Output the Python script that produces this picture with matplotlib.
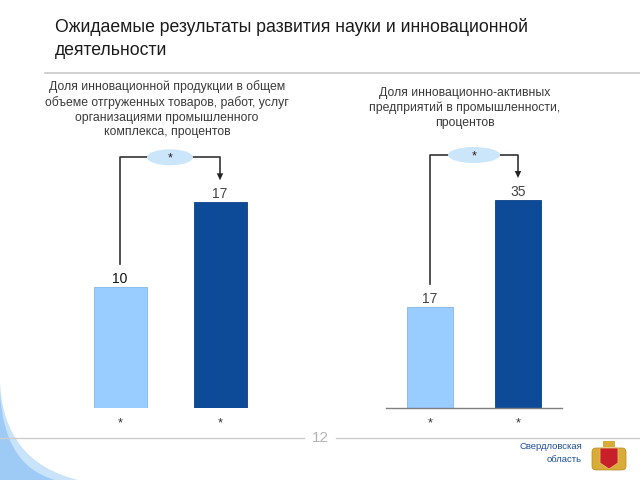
import matplotlib
matplotlib.use("Agg")
import matplotlib.pyplot as plt
from matplotlib.patches import Ellipse, PathPatch, FancyBboxPatch, Polygon
from matplotlib.path import Path
from matplotlib.transforms import IdentityTransform
from matplotlib.lines import Line2D

plt.rcParams['font.family'] = ['Liberation Sans', 'DejaVu Sans']

# ---- data ----
title = "Ожидаемые результаты развития науки и инновационной\nдеятельности"
left_subtitle = ("Доля инновационной продукции в общем\nобъеме отгруженных товаров, работ, услуг\n"
                 "организациями промышленного\nкомплекса, процентов")
right_subtitle = "Доля инновационно-активных\nпредприятий в промышленности,\nпроцентов"
left_categories = ["*", "*"]
left_values = [10, 17]
right_categories = ["*", "*"]
right_values = [17, 35]
change_labels = ["*", "*"]
page_number = "12"
region_label = "Свердловская\nобласть"

light_color = "#99CCFF"
dark_color = "#0D4A98"

W, H = 640, 480
fig = plt.figure(figsize=(6.4, 4.8), dpi=100)
fig.patch.set_facecolor("white")


def fax(x0, y0_top, w, h):
    """axes rectangle from pixel coords (y measured from top)"""
    return fig.add_axes([x0 / W, (H - y0_top - h) / H, w / W, h / H])


def pix(x, y_top):
    return (x, H - y_top)


ident = IdentityTransform()

# ---- decorative background swoosh ----
outer = Path([pix(0, 383), pix(4, 462), pix(78, 480), pix(0, 480), pix(0, 383)],
             [Path.MOVETO, Path.CURVE3, Path.CURVE3, Path.LINETO, Path.CLOSEPOLY])
fig.patches.append(PathPatch(outer, facecolor="#C9E3FB", edgecolor="none", transform=ident, zorder=0))
inner = Path([pix(0, 393), pix(4, 466), pix(55, 480), pix(0, 480), pix(0, 393)],
             [Path.MOVETO, Path.CURVE3, Path.CURVE3, Path.LINETO, Path.CLOSEPOLY])
fig.patches.append(PathPatch(inner, facecolor="#9DCBF6", edgecolor="none", transform=ident, zorder=0))

# ---- title and rules ----
fig.text(55 / W, 1 - 18 / H, title, fontsize=12.7, color="#1a1a1a", ha="left", va="top",
         linespacing=1.45)
fig.lines.append(Line2D([45, 640], [H - 73, H - 73], color="#C8C8C8", lw=1.2, transform=ident))
fig.lines.append(Line2D([0, 304], [H - 438, H - 438], color="#CDCDCD", lw=1.0, transform=ident))
fig.lines.append(Line2D([336, 640], [H - 438, H - 438], color="#CDCDCD", lw=1.0, transform=ident))
fig.text(320 / W, 1 - 438 / H, page_number, fontsize=11, color="#B5B5B5", ha="center", va="center")

fig.text(167 / W, 1 - 80 / H, left_subtitle, fontsize=8.8, color="#3a3a3a", ha="center", va="top",
         linespacing=1.3)
fig.text(465 / W, 1 - 87 / H, right_subtitle, fontsize=8.8, color="#3a3a3a", ha="center", va="top",
         linespacing=1.3)

# ---- emblem / region label ----
fig.text(582 / W, 1 - 453 / H, region_label, fontsize=6.8, color="#1F4E9A", ha="right", va="center",
         linespacing=1.45, multialignment="right")
fig.patches.append(FancyBboxPatch((592, H - 470), 34, 22, boxstyle="round,pad=0,rounding_size=4",
                                  facecolor="#D8AC38", edgecolor="#B58A22", lw=0.5, transform=ident))
fig.patches.append(Polygon([(603, H - 447), (615, H - 447), (615, H - 441), (603, H - 441)],
                           closed=True, facecolor="#D8AC38", edgecolor="none", transform=ident))
fig.patches.append(Polygon([(600, H - 448), (618, H - 448), (618, H - 463), (609, H - 469), (600, H - 463)],
                           closed=True, facecolor="#C8202A", edgecolor="#E0C060", lw=0.6, transform=ident))


def chart(ax, cats, vals, ylim_top, width, labels_colors, ell_w, baseline, change):
    x = list(range(len(vals)))
    ax.bar(x, vals, width=width, color=[light_color, dark_color],
           edgecolor=["#86B6E6", "#0B4088"], linewidth=0.6, zorder=2)
    ax.set_xlim(-0.5, len(vals) - 0.5)
    ax.set_ylim(0, ylim_top)
    ax.set_xticks(x)
    ax.set_xticklabels(cats, fontsize=9, color="#333333")
    ax.tick_params(axis="x", length=0, pad=6.5)
    ax.set_yticks([])
    for s in ["top", "right", "left"]:
        ax.spines[s].set_visible(False)
    if baseline:
        ax.spines["bottom"].set_color("#808080")
        ax.spines["bottom"].set_linewidth(1.0)
    else:
        ax.spines["bottom"].set_visible(False)
    ax.patch.set_alpha(0)
    for xi, v, c in zip(x, vals, labels_colors):
        ax.annotate(str(v), (xi, v), xytext=(0, 5.8), textcoords="offset points",
                    ha="center", va="center", fontsize=10, color=c)
    # bracket with arrow (pixel offsets from bar tops)
    fig.canvas.draw()
    p0 = ax.transData.transform((x[0], vals[0]))
    p1 = ax.transData.transform((x[1], vals[1]))
    top = max(p0[1], p1[1])
    yb = top + 45
    ax.add_artist(Line2D([p0[0], p0[0], p1[0], p1[0]], [p0[1] + 23, yb, yb, top + 27],
                         color="#333333", lw=1.2, transform=ident, zorder=3, clip_on=False))
    ax.add_artist(Polygon([(p1[0] - 3.2, top + 29), (p1[0] + 3.2, top + 29), (p1[0], top + 22)],
                          closed=True, facecolor="#222222", edgecolor="none", transform=ident,
                          zorder=3, clip_on=False))
    xm = (p0[0] + p1[0]) / 2
    ax.add_artist(Ellipse((xm, yb), ell_w, 16, facecolor="#CBE6FA", edgecolor="none",
                          transform=ident, zorder=4, clip_on=False))
    ax.text(xm, yb - 1, change, transform=ident, ha="center", va="center", fontsize=9,
            color="#222222", zorder=5)


axL = fax(70, 140, 200, 268)
chart(axL, left_categories, left_values, 22.15, 0.53, ["#111111", "#444444"], 46, False, change_labels[0])
axR = fax(386, 140, 176, 268)
chart(axR, right_categories, right_values, 45.1, 0.53, ["#444444", "#444444"], 52, True, change_labels[1])

fig.savefig("out.png", dpi=100)
